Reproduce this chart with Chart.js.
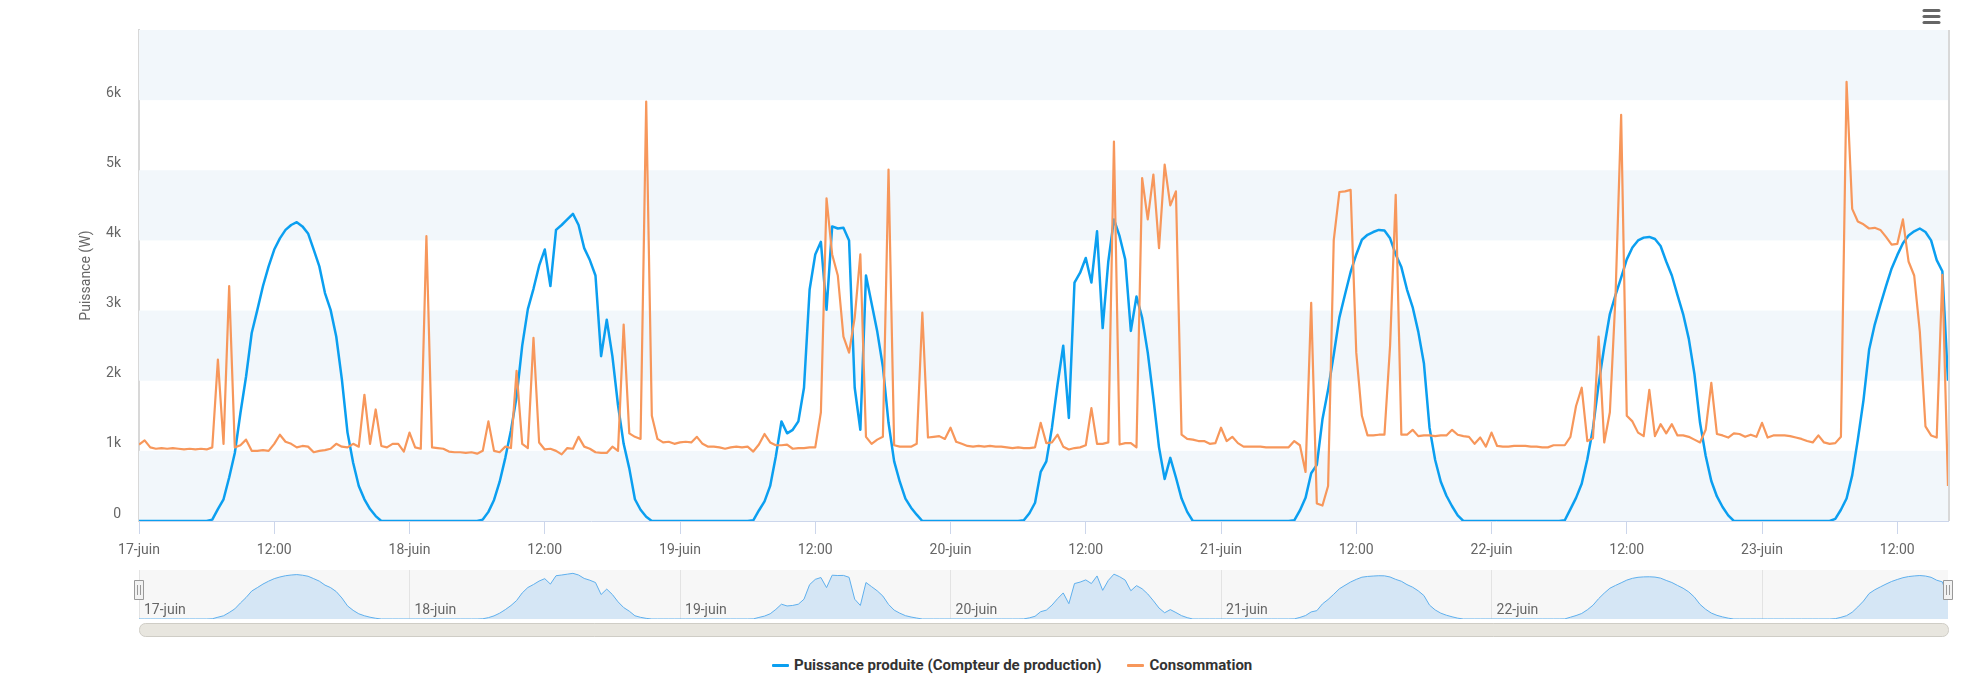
<!DOCTYPE html>
<html lang="fr">
<head>
<meta charset="utf-8">
<title>Puissance produite et consommation</title>
<script src="https://cdn.jsdelivr.net/npm/chart.js@4.4.1/dist/chart.umd.min.js"></script>
<style>
  html, body { margin: 0; padding: 0; background: #fff; }
  body { width: 1972px; height: 692px; position: relative; overflow: hidden; font-family: Roboto, Arial, sans-serif; }
  #mainChart { position: absolute; left: 0; top: 0; }
  #navChart { position: absolute; left: 0; top: 560px; }
  #legend { position: absolute; left: 772px; top: 656px; display: flex; align-items: center; font-weight: bold; font-size: 15px; color: #333; }
  .item { display: flex; align-items: center; margin-right: 26px; }
  .swatch { width: 17px; height: 3px; margin-right: 5px; border-radius: 1px; }
</style>
</head>
<body>
<canvas id="mainChart" width="1972" height="570"></canvas>
<canvas id="navChart" width="1972" height="82"></canvas>
<div id="legend">
  <div class="item"><span class="swatch" style="background:#0b9ff0"></span>Puissance produite (Compteur de production)</div>
  <div class="item"><span class="swatch" style="background:#f7975b"></span>Consommation</div>
</div>
<script>
// one value every 30 minutes, starting 17-juin 00:00
const stepHours = 0.5;
const dayLabels = ["17-juin", "18-juin", "19-juin", "20-juin", "21-juin", "22-juin", "23-juin"];

// Puissance produite (W)
const prod17 = [0, 0, 0, 0, 0, 0, 0, 0, 0, 0, 0, 0, 0, 20, 170, 310, 620, 970, 1540, 2060, 2680, 3010, 3350, 3630,
  3870, 4030, 4150, 4220, 4260, 4200, 4100, 3870, 3630, 3250, 3010, 2630, 2020, 1260, 830, 500, 310, 170, 70, 0, 0, 0, 0, 0];
const prod18 = [0, 0, 0, 0, 0, 0, 0, 0, 0, 0, 0, 0, 0, 20, 130, 300, 560, 900, 1290, 1770, 2500, 3020, 3310, 3640,
  3870, 3350, 4150, 4220, 4300, 4380, 4220, 3890, 3720, 3500, 2350, 2870, 2350, 1650, 1100, 750, 310, 160, 60, 0, 0, 0, 0, 0];
const prod19 = [0, 0, 0, 0, 0, 0, 0, 0, 0, 0, 0, 0, 0, 10, 150, 280, 500, 920, 1420, 1250, 1300, 1420, 1900, 3300,
  3800, 3980, 3010, 4200, 4170, 4180, 4000, 1900, 1300, 3500, 3100, 2700, 2200, 1400, 850, 560, 320, 190, 90, 0, 0, 0, 0, 0];
const prod20 = [0, 0, 0, 0, 0, 0, 0, 0, 0, 0, 0, 0, 0, 10, 110, 260, 700, 850, 1330, 1950, 2500, 1470, 3400, 3540,
  3750, 3400, 4130, 2750, 3700, 4300, 4060, 3730, 2710, 3200, 2900, 2400, 1750, 1050, 600, 900, 620, 320, 130, 0, 0, 0, 0, 0];
const prod21 = [0, 0, 0, 0, 0, 0, 0, 0, 0, 0, 0, 0, 0, 10, 150, 330, 680, 800, 1450, 1870, 2370, 2900, 3230, 3550,
  3800, 4010, 4080, 4120, 4150, 4140, 4030, 3800, 3620, 3300, 3050, 2700, 2250, 1330, 870, 560, 360, 210, 80, 0, 0, 0, 0, 0];
const prod22 = [0, 0, 0, 0, 0, 0, 0, 0, 0, 0, 0, 0, 0, 10, 170, 330, 530, 880, 1320, 1950, 2480, 2950, 3220, 3470,
  3730, 3900, 4000, 4040, 4050, 4020, 3920, 3700, 3500, 3220, 2950, 2600, 2100, 1400, 930, 570, 350, 200, 80, 0, 0, 0, 0, 0];
const prod23 = [0, 0, 0, 0, 0, 0, 0, 0, 0, 0, 0, 0, 0, 30, 160, 320, 650, 1160, 1720, 2440, 2800, 3080, 3350, 3600,
  3790, 3960, 4070, 4130, 4170, 4120, 4000, 3720, 3560, 2000];

// Consommation (W)
const cons17 = [1090, 1150, 1050, 1030, 1040, 1030, 1040, 1030, 1020, 1030, 1020, 1030, 1020, 1050, 2300, 1100, 3350, 1050, 1080, 1160, 1000, 1000, 1010, 1000,
  1100, 1230, 1130, 1100, 1050, 1070, 1060, 980, 1000, 1010, 1030, 1100, 1060, 1050, 1100, 1060, 1800, 1100, 1590, 1070, 1050, 1100, 1100, 990];
const cons18 = [1260, 1050, 1030, 4060, 1050, 1040, 1030, 990, 980, 980, 970, 980, 960, 1000, 1420, 1000, 980, 1060, 1040, 2140, 1100, 1040, 2610, 1120,
  1020, 1030, 1000, 950, 1040, 1030, 1200, 1060, 1030, 980, 970, 970, 1060, 1000, 2800, 1250, 1200, 1170, 5980, 1500, 1170, 1120, 1130, 1100];
const cons19 = [1120, 1130, 1120, 1200, 1100, 1060, 1060, 1050, 1030, 1050, 1060, 1050, 1060, 990, 1090, 1240, 1120, 1080, 1080, 1090, 1030, 1040, 1040, 1050,
  1050, 1550, 4600, 3800, 3500, 2630, 2400, 2900, 3800, 1200, 1100, 1160, 1200, 5010, 1080, 1060, 1060, 1060, 1100, 2970, 1190, 1200, 1210, 1170];
const cons20 = [1330, 1130, 1100, 1070, 1060, 1070, 1060, 1070, 1060, 1060, 1050, 1040, 1050, 1040, 1040, 1050, 1400, 1110, 1120, 1230, 1060, 1020, 1040, 1050,
  1080, 1610, 1100, 1100, 1120, 5410, 1090, 1110, 1110, 1050, 4890, 4300, 4940, 3890, 5080, 4500, 4700, 1230, 1170, 1160, 1140, 1140, 1100, 1110];
const cons21 = [1330, 1140, 1200, 1110, 1060, 1060, 1060, 1060, 1050, 1050, 1050, 1050, 1050, 1140, 1080, 700, 3110, 250, 220, 500, 4000, 4690, 4700, 4720,
  2400, 1500, 1220, 1220, 1230, 1230, 2500, 4650, 1230, 1230, 1300, 1210, 1220, 1220, 1210, 1220, 1220, 1300, 1230, 1210, 1200, 1100, 1190, 1060];
const cons22 = [1260, 1070, 1060, 1060, 1070, 1070, 1070, 1060, 1060, 1050, 1050, 1080, 1080, 1080, 1200, 1640, 1900, 1140, 1180, 2630, 1120, 1550, 3200, 5790,
  1500, 1420, 1260, 1210, 1870, 1210, 1380, 1250, 1380, 1220, 1220, 1200, 1160, 1120, 1300, 1970, 1240, 1220, 1190, 1250, 1240, 1200, 1230, 1200];
const cons23 = [1400, 1190, 1220, 1220, 1220, 1210, 1190, 1170, 1140, 1120, 1220, 1120, 1100, 1110, 1200, 6260, 4450, 4270, 4230, 4170, 4180, 4150, 4050, 3940,
  3950, 4300, 3700, 3500, 2700, 1350, 1220, 1190, 3510, 500];

const yTicks = [0, 1000, 2000, 3000, 4000, 5000, 6000, 7000];
const bandStarts = [0, 2000, 4000, 6000];

const productionValues = [].concat(prod17, prod18, prod19, prod20, prod21, prod22, prod23);
const consumptionValues = [].concat(cons17, cons18, cons19, cons20, cons21, cons22, cons23);
const lastHour = (productionValues.length - 1) * stepHours;

const blue = "#0b9ff0";
const orange = "#f7975b";
const bandColor = "#f2f7fb";

function toPoints(values) {
  return values.map((value, index) => ({ x: index * stepHours, y: value }));
}

Chart.defaults.font.family = "Roboto, Arial, sans-serif";
Chart.defaults.color = "#666";

const bandsPlugin = {
  id: "bands",
  beforeDatasetsDraw(chart) {
    const { ctx, chartArea } = chart;
    const y = chart.scales.y;
    ctx.save();
    ctx.fillStyle = bandColor;
    bandStarts.forEach((start) => {
      const top = y.getPixelForValue(start + 1000);
      const bottom = y.getPixelForValue(start);
      ctx.fillRect(chartArea.left, top, chartArea.right - chartArea.left, bottom - top);
    });
    ctx.restore();
  },
  afterDraw(chart) {
    const { ctx, chartArea } = chart;
    ctx.save();
    // right frame line
    ctx.strokeStyle = "#d8d8d8";
    ctx.lineWidth = 2;
    ctx.beginPath();
    ctx.moveTo(chartArea.right + 1, chartArea.top);
    ctx.lineTo(chartArea.right + 1, chartArea.bottom);
    ctx.stroke();
    // export menu icon
    ctx.strokeStyle = "#666";
    ctx.lineWidth = 3;
    ctx.lineCap = "round";
    [10.5, 16.5, 22.5].forEach((yy) => {
      ctx.beginPath();
      ctx.moveTo(1924, yy);
      ctx.lineTo(1939, yy);
      ctx.stroke();
    });
    ctx.restore();
  },
};

new Chart(document.querySelector("#mainChart"), {
  type: "line",
  data: {
    datasets: [
      {
        label: "Puissance produite (Compteur de production)",
        data: toPoints(productionValues),
        borderColor: blue,
        borderWidth: 2.5,
        borderJoinStyle: "round",
        pointRadius: 0,
        tension: 0,
        order: 2,
      },
      {
        label: "Consommation",
        data: toPoints(consumptionValues),
        borderColor: orange,
        borderWidth: 2.2,
        borderJoinStyle: "round",
        pointRadius: 0,
        tension: 0,
        order: 1,
      },
    ],
  },
  options: {
    responsive: false,
    animation: false,
    layout: { padding: { left: 0, right: 24, top: 30, bottom: 0 } },
    plugins: { legend: { display: false }, tooltip: { enabled: false } },
    scales: {
      x: {
        type: "linear",
        min: 0,
        max: lastHour,
        afterFit: (scale) => { scale.height = 49; },
        border: { display: true, color: "#ccd6eb" },
        grid: { drawOnChartArea: false, drawTicks: true, tickLength: 13, color: "#ccd6eb" },
        ticks: {
          stepSize: 12,
          includeBounds: false,
          autoSkip: false,
          maxRotation: 0,
          padding: 8,
          font: { size: 14 },
          callback: (value) => (value % 24 === 0 ? dayLabels[value / 24] : "12:00"),
        },
      },
      y: {
        min: yTicks[0],
        max: yTicks[yTicks.length - 1],
        afterFit: (scale) => { scale.width = 139; },
        border: { display: true, color: "#d8d8d8", width: 2 },
        grid: { display: false, drawTicks: false },
        ticks: {
          stepSize: 1000,
          padding: 18,
          labelOffset: -7,
          font: { size: 14 },
          callback: (value) => (value === 0 ? "0" : value >= 7000 ? "" : `${value / 1000}k`),
        },
        title: {
          display: true,
          text: "Puissance (W)",
          color: "#666",
          font: { size: 14 },
          padding: { top: 78, bottom: 0 },
        },
      },
    },
  },
  plugins: [bandsPlugin],
});

const navigatorPlugin = {
  id: "navigatorParts",
  beforeDraw(chart) {
    const { ctx, chartArea } = chart;
    ctx.save();
    ctx.fillStyle = "#f7f7f7";
    ctx.fillRect(chartArea.left, chartArea.top, chartArea.right - chartArea.left, chartArea.bottom - chartArea.top);
    ctx.restore();
  },
  afterDatasetsDraw(chart) {
    // day labels sit inside the navigator, left-aligned on each day line
    const { ctx, chartArea } = chart;
    const x = chart.scales.x;
    ctx.save();
    ctx.fillStyle = "#666";
    ctx.font = "14px Roboto, Arial, sans-serif";
    ctx.textAlign = "left";
    ctx.textBaseline = "middle";
    x.ticks.forEach((tick) => {
      const label = tick.value < 144 ? dayLabels[tick.value / 24] : "";
      if (label) ctx.fillText(label, x.getPixelForValue(tick.value) + 5, chartArea.bottom - 9);
    });
    ctx.restore();
  },
  afterDraw(chart) {
    const { ctx, chartArea } = chart;
    ctx.save();
    // scrollbar
    const barTop = chartArea.bottom + 4;
    const barH = 13;
    ctx.fillStyle = "#e8e6df";
    ctx.strokeStyle = "#cfcdc6";
    ctx.lineWidth = 1;
    ctx.beginPath();
    ctx.roundRect(chartArea.left + 0.5, barTop + 0.5, chartArea.right - chartArea.left, barH, 6);
    ctx.fill();
    ctx.stroke();
    // handles
    [chartArea.left, chartArea.right].forEach((cx) => {
      ctx.fillStyle = "#f2f2f2";
      ctx.strokeStyle = "#999";
      ctx.beginPath();
      ctx.rect(Math.round(cx) - 4.5, 20.5, 9, 19);
      ctx.fill();
      ctx.stroke();
      ctx.beginPath();
      ctx.moveTo(Math.round(cx) - 1.5, 25);
      ctx.lineTo(Math.round(cx) - 1.5, 35);
      ctx.moveTo(Math.round(cx) + 1.5, 25);
      ctx.lineTo(Math.round(cx) + 1.5, 35);
      ctx.stroke();
    });
    ctx.restore();
  },
};

new Chart(document.querySelector("#navChart"), {
  type: "line",
  data: {
    datasets: [{
      label: "Puissance produite (Compteur de production)",
      data: toPoints(productionValues),
      borderColor: "#5fb0ee",
      borderWidth: 1,
      backgroundColor: "rgba(110, 180, 240, 0.25)",
      fill: "origin",
      pointRadius: 0,
      tension: 0,
    }],
  },
  options: {
    responsive: false,
    animation: false,
    layout: { padding: { left: 139, right: 24, top: 10, bottom: 23 } },
    plugins: { legend: { display: false }, tooltip: { enabled: false } },
    scales: {
      x: {
        type: "linear",
        min: 0,
        max: lastHour,
        afterFit: (scale) => { scale.height = 0; },
        border: { display: false },
        grid: { drawTicks: false, color: "#e3e3e3" },
        ticks: {
          stepSize: 24,
          includeBounds: false,
          autoSkip: false,
          maxRotation: 0,
          display: false,
        },
      },
      y: { display: false, min: 0, max: 4700 },
    },
  },
  plugins: [navigatorPlugin],
});
</script>
</body>
</html>
